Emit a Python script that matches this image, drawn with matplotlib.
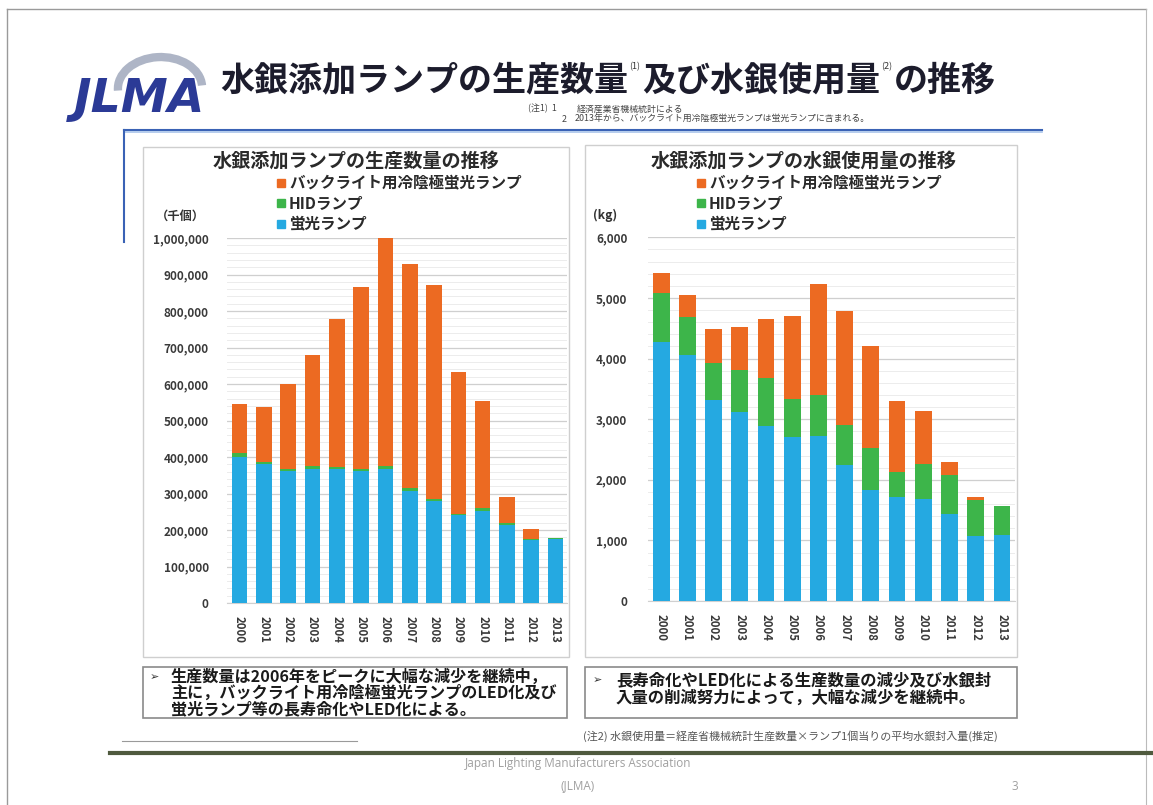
import matplotlib
matplotlib.use("Agg")
import matplotlib.pyplot as plt
from matplotlib.patches import Rectangle, Arc
from matplotlib.lines import Line2D
from matplotlib.ticker import FuncFormatter, MultipleLocator

plt.rcParams['font.family'] = ['Noto Sans CJK JP', 'DejaVu Sans']

# ---------------- data ----------------
years = ['2000', '2001', '2002', '2003', '2004', '2005', '2006',
         '2007', '2008', '2009', '2010', '2011', '2012', '2013']

# production (thousand units)
prod_fluor = [400000, 380000, 362000, 368000, 366000, 362000, 368000,
              306000, 280000, 240000, 253000, 214000, 172000, 176000]
prod_hid = [10000, 6000, 6000, 6000, 6000, 5000, 6000,
            8000, 6000, 5000, 6000, 6000, 4000, 3000]
prod_ccfl = [135000, 152000, 232000, 306000, 406000, 500000, 626000,
             614000, 584000, 389000, 295000, 70000, 28000, 0]

# mercury use (kg)
hg_fluor = [4280, 4060, 3320, 3120, 2880, 2710, 2720,
            2240, 1830, 1710, 1680, 1440, 1070, 1090]
hg_hid = [800, 620, 610, 690, 800, 620, 680,
          660, 690, 420, 580, 640, 590, 470]
hg_ccfl = [330, 370, 550, 710, 970, 1370, 1830,
           1890, 1690, 1170, 880, 220, 60, 0]

series_names = ['バックライト用冷陰極蛍光ランプ', 'HIDランプ', '蛍光ランプ']

C_ORANGE = '#EC6A22'
C_GREEN = '#3DB54A'
C_BLUE = '#25A9E1'

W, H = 1153, 805
fig = plt.figure(figsize=(W / 100, H / 100), dpi=100)
fig.patch.set_facecolor('white')


def fx(x):
    return x / W


def fy(y):
    return 1 - y / H


def hline(x0, x1, y, **kw):
    fig.add_artist(Line2D([fx(x0), fx(x1)], [fy(y), fy(y)], transform=fig.transFigure, **kw))


def vline(x, y0, y1, **kw):
    fig.add_artist(Line2D([fx(x), fx(x)], [fy(y0), fy(y1)], transform=fig.transFigure, **kw))


def rect(x0, y0, x1, y1, **kw):
    fig.add_artist(Rectangle((fx(x0), fy(y1)), fx(x1) - fx(x0), (y1 - y0) / H,
                             transform=fig.transFigure, fill=False, **kw))


# slide border
hline(7, 1146, 9, color='#9a9a9a', lw=1)
vline(7, 9, 805, color='#9a9a9a', lw=1)
vline(1146, 9, 805, color='#bbbbbb', lw=0.8)

# ---------------- logo ----------------
fig.add_artist(Arc((fx(160), fy(88)), 84 / W, 62 / H, angle=-10, theta1=15, theta2=195,
                   transform=fig.transFigure, color='#9aa3b8', lw=6, alpha=0.8))
fig.text(fx(74), fy(100), 'JLMA', fontsize=34, fontweight='heavy', style='italic',
         color='#2B3A96', family=['DejaVu Sans'], va='center', ha='left')

# ---------------- title with superscripts ----------------
renderer = fig.canvas.get_renderer()
pieces = [('水銀添加ランプの生産数量', False), ('(1)', True), ('及び水銀使用量', False),
          ('(2)', True), ('の推移', False)]
xcur = fx(220)
for txt, sup in pieces:
    if sup:
        t = fig.text(xcur + 1 / W, fy(67), txt, fontsize=6.5, color='#333333', va='center', ha='left')
        bb = t.get_window_extent(renderer=renderer)
        xcur += (bb.width + 3) / W
    else:
        t = fig.text(xcur, fy(80), txt, fontsize=24.5, fontweight='bold', color='#1c1c2c',
                     va='center', ha='left')
        bb = t.get_window_extent(renderer=renderer)
        xcur += bb.width / W

# top notes
fig.text(fx(528), fy(109), '(注1)  1', fontsize=6.4, color='#444444', va='center')
fig.text(fx(577), fy(109), '経済産業省機械統計による', fontsize=6.4, color='#444444', va='center')
fig.text(fx(562), fy(119), '2', fontsize=6.4, color='#444444', va='center')
fig.text(fx(575), fy(119), '2013年から、バックライト用冷陰極蛍光ランプは蛍光ランプに含まれる。',
         fontsize=6.4, color='#444444', va='center')

# blue frame lines
hline(124, 1042, 130, color='#3a62b5', lw=1.5)
hline(124, 1042, 132, color='#a9c4ea', lw=1.2)
vline(124, 130, 242, color='#3a62b5', lw=1.5)

# ---------------- panels ----------------
rect(143, 147, 569, 657, edgecolor='#cfcfcf', lw=1)
rect(585, 145, 1017, 657, edgecolor='#cfcfcf', lw=1)


def style_axes(ax, ymax, major, minor, fmt, ypad):
    ax.set_ylim(0, ymax)
    ax.yaxis.set_major_locator(MultipleLocator(major))
    ax.yaxis.set_minor_locator(MultipleLocator(minor))
    ax.yaxis.set_major_formatter(FuncFormatter(fmt))
    ax.grid(axis='y', which='major', color='#cfcfcf', lw=0.9)
    ax.grid(axis='y', which='minor', color='#ececec', lw=0.7)
    ax.set_axisbelow(True)
    for s in ['top', 'right', 'left']:
        ax.spines[s].set_visible(False)
    ax.spines['bottom'].set_color('#d0d0d0')
    ax.tick_params(axis='both', which='both', length=0, colors='#3a3a3a', labelsize=8.5)
    ax.tick_params(axis='y', pad=ypad)
    ax.tick_params(axis='x', pad=9)
    for lab in ax.get_yticklabels():
        lab.set_fontweight('bold')
    ax.set_xticks(range(len(years)))
    ax.set_xticklabels(years, rotation=270, fontweight='bold', fontsize=8.2)
    ax.patch.set_alpha(0)


def stack(ax, fl, hid, cc, width):
    x = list(range(len(years)))
    b2 = [a + b for a, b in zip(fl, hid)]
    ax.bar(x, fl, width, color=C_BLUE, zorder=3)
    ax.bar(x, hid, width, bottom=fl, color=C_GREEN, zorder=3)
    ax.bar(x, cc, width, bottom=b2, color=C_ORANGE, zorder=3)


# left chart
axL = fig.add_axes([fx(226.7), fy(603), (567 - 226.7) / W, (603 - 238) / H])
stack(axL, prod_fluor, prod_hid, prod_ccfl, 0.64)
axL.set_xlim(-0.53, 13.47)
style_axes(axL, 1000000, 100000, 20000, lambda v, p: f'{int(v):,}', 13)

# right chart
axR = fig.add_axes([fx(648.3), fy(601), (1015 - 648.3) / W, (601 - 237.3) / H])
stack(axR, hg_fluor, hg_hid, hg_ccfl, 0.64)
axR.set_xlim(-0.49, 13.5)
style_axes(axR, 6000, 1000, 200, lambda v, p: f'{int(v):,}', 15)

# chart titles
fig.text(fx(356), fy(161), '水銀添加ランプの生産数量の推移', fontsize=13.8, fontweight='bold',
         color='#2a2a2a', ha='center', va='center')
fig.text(fx(804), fy(161), '水銀添加ランプの水銀使用量の推移', fontsize=13.8, fontweight='bold',
         color='#2a2a2a', ha='center', va='center')

# legends
leg_colors = [C_ORANGE, C_GREEN, C_BLUE]
for (lx, tx) in [(277, 289), (697, 709)]:
    for i, (name, col) in enumerate(zip(series_names, leg_colors)):
        yy = 183 + i * 20.5
        fig.add_artist(Rectangle((fx(lx), fy(yy + 4)), 8 / W, 8 / H, transform=fig.transFigure,
                                 color=col))
        fig.text(fx(tx), fy(yy), name, fontsize=11.2, fontweight='bold', color='#2a2a2a',
                 va='center', ha='left')

# unit labels
fig.text(fx(180), fy(216), '（千個）', fontsize=8.8, fontweight='bold', color='#333333',
         ha='center', va='center')
fig.text(fx(605), fy(215), '(kg)', fontsize=8.8, fontweight='bold', color='#333333',
         ha='center', va='center')

# ---------------- bottom text boxes ----------------
rect(143, 667, 567, 718, edgecolor='#8a8a8a', lw=1.2)
rect(585, 667, 1017, 718, edgecolor='#8a8a8a', lw=1.2)

fam = ['Noto Sans CJK JP', 'DejaVu Sans']
fig.text(fx(150), fy(677), '➢', fontsize=8, color='#333333', va='center', family=fam)
fig.text(fx(171), fy(677), '生産数量は2006年をピークに大幅な減少を継続中，', fontsize=11.6,
         fontweight='bold', color='#1a1a1a', va='center')
fig.text(fx(171), fy(693), '主に，バックライト用冷陰極蛍光ランプのLED化及び', fontsize=11.6,
         fontweight='bold', color='#1a1a1a', va='center')
fig.text(fx(171), fy(709), '蛍光ランプ等の長寿命化やLED化による。', fontsize=11.6,
         fontweight='bold', color='#1a1a1a', va='center')

fig.text(fx(593), fy(680), '➢', fontsize=8, color='#333333', va='center', family=fam)
fig.text(fx(616), fy(680), '長寿命化やLED化による生産数量の減少及び水銀封', fontsize=11.8,
         fontweight='bold', color='#1a1a1a', va='center')
fig.text(fx(616), fy(698), '入量の削減努力によって，大幅な減少を継続中。', fontsize=11.8,
         fontweight='bold', color='#1a1a1a', va='center')

fig.text(fx(583), fy(736), '(注2) 水銀使用量＝経産省機械統計生産数量×ランプ1個当りの平均水銀封入量(推定)',
         fontsize=7.9, color='#555555', va='center')

# ---------------- footer ----------------
hline(122, 357, 741, color='#9a9a9a', lw=0.8)
hline(110, 1153, 753, color='#4f5a3e', lw=3)
fig.text(fx(578), fy(763), 'Japan Lighting Manufacturers Association', fontsize=8.5,
         color='#a0a0a0', ha='center', va='center', family=['Open Sans', 'DejaVu Sans'])
fig.text(fx(578), fy(786), '(JLMA)', fontsize=8.5, color='#a0a0a0', ha='center', va='center',
         family=['Open Sans', 'DejaVu Sans'])
fig.text(fx(1015), fy(786), '3', fontsize=8.5, color='#a0a0a0', ha='center', va='center',
         family=['Open Sans', 'DejaVu Sans'])

fig.savefig('out.png', dpi=100)
